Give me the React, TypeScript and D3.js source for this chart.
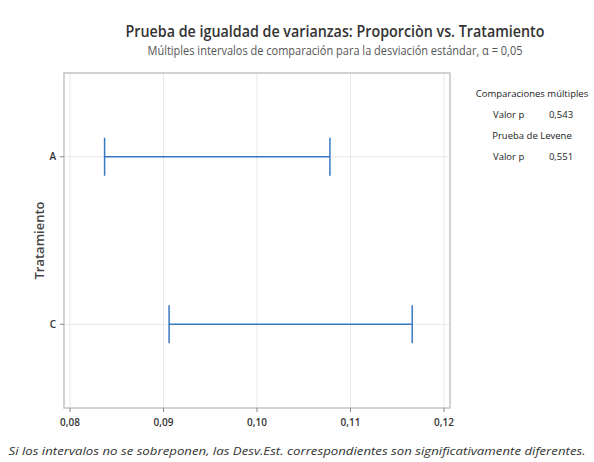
import React from "react";
import * as d3 from "d3";

const categories = ["A", "C"];
const lowerBounds = [0.0837, 0.0906];
const upperBounds = [0.1078, 0.1166];
const xTicks = [0.08, 0.09, 0.1, 0.11, 0.12];
const legendLines = [
  { label: "Comparaciones múltiples", value: "" },
  { label: "Valor p", value: "0,543" },
  { label: "Prueba de Levene", value: "" },
  { label: "Valor p", value: "0,551" },
];

const W = 594;
const H = 462;
const frame = { left: 64, right: 450, top: 73, bottom: 408 };
const font = "'Open Sans', 'Noto Sans', sans-serif";

export default function App() {
  const x = d3.scaleLinear().domain([0.08, 0.12]).range([70, 444]);
  const y = d3
    .scalePoint<string>()
    .domain(categories)
    .range([frame.top, frame.bottom])
    .padding(0.5);
  const fmt = (v: number) => d3.format(".2f")(v).replace(".", ",");
  const blue = "#3878c0";
  const capH = 19;

  return (
    <svg
      width={W}
      height={H}
      style={{ position: "absolute", left: 0, top: 0, background: "#fff" }}
      fontFamily={font}
    >
      <rect x={0} y={0} width={W} height={H} fill="#fff" />
      <text
        x={335}
        y={37}
        textAnchor="middle"
        fontSize={15.5}
        fontWeight={600}
        fill="#333"
        textLength={419}
        lengthAdjust="spacingAndGlyphs"
      >
        Prueba de igualdad de varianzas: Proporciòn vs. Tratamiento
      </text>
      <text
        x={335}
        y={55}
        textAnchor="middle"
        fontSize={12}
        fill="#555"
        textLength={375}
        lengthAdjust="spacingAndGlyphs"
      >
        Múltiples intervalos de comparación para la desviación estándar, α = 0,05
      </text>

      {/* gridlines */}
      {xTicks.map((t) => (
        <line
          key={"gx" + t}
          x1={x(t)}
          x2={x(t)}
          y1={frame.top}
          y2={frame.bottom}
          stroke="#e8e8e8"
          strokeWidth={1}
        />
      ))}
      {categories.map((c) => (
        <line
          key={"gy" + c}
          x1={frame.left}
          x2={frame.right}
          y1={y(c)}
          y2={y(c)}
          stroke="#e8e8e8"
          strokeWidth={1}
        />
      ))}

      {/* frame */}
      <rect
        x={frame.left}
        y={frame.top}
        width={frame.right - frame.left}
        height={frame.bottom - frame.top}
        fill="none"
        stroke="#c4c4c4"
        strokeWidth={1.5}
      />

      {/* x ticks */}
      {xTicks.map((t) => (
        <g key={"tx" + t}>
          <line
            x1={x(t)}
            x2={x(t)}
            y1={frame.bottom}
            y2={frame.bottom + 4}
            stroke="#888"
            strokeWidth={1}
          />
          <text
            x={x(t)}
            y={426}
            textAnchor="middle"
            fontSize={10}
            fontWeight={600}
            fill="#333"
          >
            {fmt(t)}
          </text>
        </g>
      ))}

      {/* y ticks */}
      {categories.map((c) => (
        <g key={"ty" + c}>
          <line
            x1={frame.left - 4}
            x2={frame.left}
            y1={y(c)}
            y2={y(c)}
            stroke="#888"
            strokeWidth={1}
          />
          <text
            x={frame.left - 8}
            y={(y(c) as number) + 3.5}
            textAnchor="end"
            fontSize={10}
            fontWeight={600}
            fill="#333"
          >
            {c}
          </text>
        </g>
      ))}

      <text
        transform={`translate(44, ${(frame.top + frame.bottom) / 2}) rotate(-90)`}
        textAnchor="middle"
        fontSize={13}
        fill="#444"
        fontWeight={600}
      >
        Tratamiento
      </text>

      {/* intervals */}
      {categories.map((c, i) => {
        const cy = y(c) as number;
        const x0 = x(lowerBounds[i]);
        const x1 = x(upperBounds[i]);
        return (
          <g key={"iv" + c} stroke={blue} strokeWidth={1.5} fill="none">
            <line x1={x0} x2={x1} y1={cy} y2={cy} />
            <line x1={x0} x2={x0} y1={cy - capH} y2={cy + capH} />
            <line x1={x1} x2={x1} y1={cy - capH} y2={cy + capH} />
          </g>
        );
      })}

      {/* legend */}
      {legendLines.map((l, i) => {
        const ly = 97 + i * 21;
        return l.value ? (
          <g key={"lg" + i} fontSize={9.5} fill="#222" fontWeight={500}>
            <text x={493} y={ly}>
              {l.label}
            </text>
            <text x={561} y={ly} textAnchor="middle">
              {l.value}
            </text>
          </g>
        ) : (
          <text
            key={"lg" + i}
            x={532}
            y={ly}
            textAnchor="middle"
            fontSize={9.5}
            fontWeight={500}
            fill="#222"
          >
            {l.label}
          </text>
        );
      })}

      <text
        x={297}
        y={455}
        textAnchor="middle"
        fontSize={11.5}
        fontStyle="italic"
        fill="#333"
        textLength={577}
        lengthAdjust="spacingAndGlyphs"
      >
        Si los intervalos no se sobreponen, las Desv.Est. correspondientes son significativamente diferentes.
      </text>
    </svg>
  );
}
